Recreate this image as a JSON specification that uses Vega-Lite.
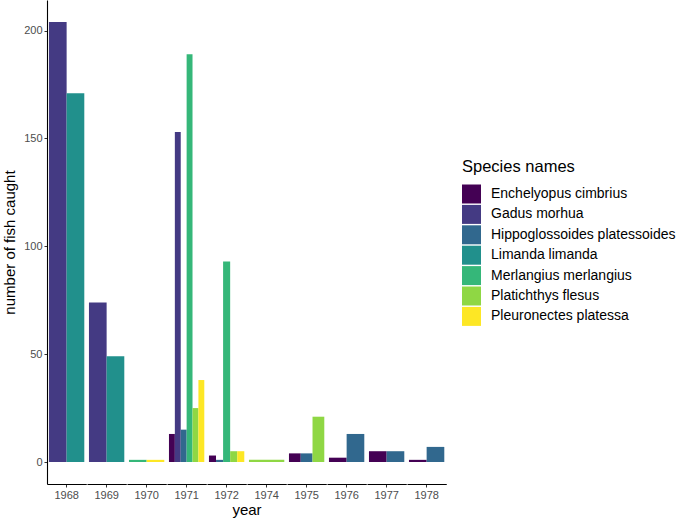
{
  "$schema": "https://vega.github.io/schema/vega-lite/v6.json",
  "padding": {"left": 2, "top": 0, "right": 0, "bottom": 0},
  "background": "white",
  "data": {"values": [
    {"year": "1968", "species": "Gadus morhua", "count": 204},
    {"year": "1968", "species": "Limanda limanda", "count": 171},
    {"year": "1969", "species": "Gadus morhua", "count": 74},
    {"year": "1969", "species": "Limanda limanda", "count": 49},
    {"year": "1970", "species": "Merlangius merlangius", "count": 1},
    {"year": "1970", "species": "Pleuronectes platessa", "count": 1},
    {"year": "1971", "species": "Enchelyopus cimbrius", "count": 13},
    {"year": "1971", "species": "Gadus morhua", "count": 153},
    {"year": "1971", "species": "Hippoglossoides platessoides", "count": 15},
    {"year": "1971", "species": "Merlangius merlangius", "count": 189},
    {"year": "1971", "species": "Platichthys flesus", "count": 25},
    {"year": "1971", "species": "Pleuronectes platessa", "count": 38},
    {"year": "1972", "species": "Enchelyopus cimbrius", "count": 3},
    {"year": "1972", "species": "Hippoglossoides platessoides", "count": 1},
    {"year": "1972", "species": "Merlangius merlangius", "count": 93},
    {"year": "1972", "species": "Platichthys flesus", "count": 5},
    {"year": "1972", "species": "Pleuronectes platessa", "count": 5},
    {"year": "1974", "species": "Platichthys flesus", "count": 1},
    {"year": "1975", "species": "Enchelyopus cimbrius", "count": 4},
    {"year": "1975", "species": "Hippoglossoides platessoides", "count": 4},
    {"year": "1975", "species": "Platichthys flesus", "count": 21},
    {"year": "1976", "species": "Enchelyopus cimbrius", "count": 2},
    {"year": "1976", "species": "Hippoglossoides platessoides", "count": 13},
    {"year": "1977", "species": "Enchelyopus cimbrius", "count": 5},
    {"year": "1977", "species": "Hippoglossoides platessoides", "count": 5},
    {"year": "1978", "species": "Enchelyopus cimbrius", "count": 1},
    {"year": "1978", "species": "Hippoglossoides platessoides", "count": 7}
  ]},
  "facet": {
    "column": {
      "field": "year", "type": "ordinal",
      "header": {
        "labels": false,
        "title": "year",
        "titleOrient": "bottom",
        "titleFont": "Liberation Sans",
        "titleFontSize": 15,
        "titleFontWeight": "normal",
        "titleColor": "black",
        "titlePadding": -7
      }
    }
  },
  "spacing": 0,
  "spec": {
    "width": 39.26,
    "height": 484,
    "mark": {"type": "bar"},
    "encoding": {
      "x": {
        "field": "year", "type": "ordinal",
        "scale": {"paddingInner": 0.1, "paddingOuter": 0.05},
        "axis": {
          "title": null, "labelAngle": 0, "labelFont": "Liberation Sans", "labelFontSize": 11,
          "labelColor": "#4d4d4d", "tickColor": "#333333", "tickSize": 3, "labelPadding": 2,
          "domainColor": "black", "domainWidth": 1.1
        }
      },
      "xOffset": {"field": "species", "type": "nominal", "scale": {"paddingInner": 0, "paddingOuter": 0}},
      "y": {
        "field": "count", "type": "quantitative",
        "scale": {"domain": [-10.2, 214.2], "nice": false, "zero": false},
        "axis": {
          "title": "number of fish caught", "values": [0, 50, 100, 150, 200], "grid": false,
          "titleFont": "Liberation Sans", "titleFontSize": 15, "titleFontWeight": "normal", "titleColor": "black",
          "titlePadding": 6,
          "labelFont": "Liberation Sans", "labelFontSize": 11, "labelColor": "#4d4d4d",
          "tickColor": "#333333", "tickSize": 3, "labelPadding": 2,
          "domainColor": "black", "domainWidth": 1.1
        }
      },
      "y2": {"datum": 0},
      "color": {
        "field": "species", "type": "nominal",
        "scale": {
          "domain": ["Enchelyopus cimbrius", "Gadus morhua", "Hippoglossoides platessoides", "Limanda limanda", "Merlangius merlangius", "Platichthys flesus", "Pleuronectes platessa"],
          "range": ["#440154", "#443A83", "#31688E", "#21908C", "#35B779", "#8FD744", "#FDE725"]
        },
        "legend": {
          "title": "Species names",
          "orient": "none", "legendX": 415, "legendY": 159,
          "titleFont": "Liberation Sans", "titleFontSize": 16.5, "titleFontWeight": "normal", "titleColor": "black",
          "titlePadding": 9,
          "labelFont": "Liberation Sans", "labelFontSize": 14, "labelColor": "black", "labelLimit": 300,
          "symbolType": "square", "symbolSize": 361, "symbolStrokeWidth": 0, "symbolOpacity": 1,
          "rowPadding": 1.4, "labelOffset": 10
        }
      }
    }
  },
  "resolve": {"scale": {"x": "independent", "xOffset": "independent"}},
  "config": {"view": {"stroke": null}}
}
